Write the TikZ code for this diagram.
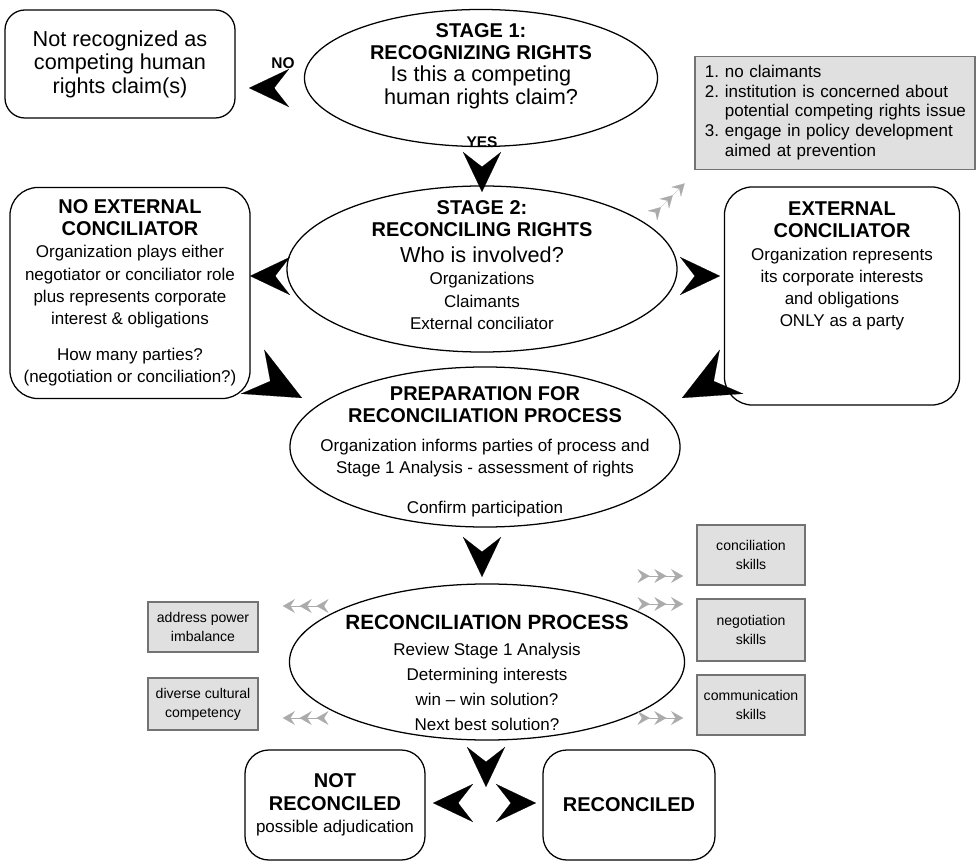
\documentclass[tikz,border=0pt]{standalone}
\usepackage{fontspec}
\setmainfont{Liberation Sans}
\usetikzlibrary{shapes.geometric,arrows.meta}

\newcommand{\hdfont}{\fontsize{14.2}{15.8}\selectfont\bfseries}
\newcommand{\txfont}{\fontsize{12.1}{15.8}\selectfont\mdseries}
\newcommand{\qfont}{\fontsize{15.4}{16.7}\selectfont\mdseries}
\newcommand{\smfont}{\fontsize{10}{13.5}\selectfont}
\newcommand{\lsfont}{\fontsize{12.1}{14.2}\selectfont}

\tikzset{
  oval/.style={ellipse, draw, line width=0.9pt, inner sep=0pt, align=center},
  rbox/.style={draw, rounded corners=0.7cm, line width=0.9pt, inner sep=0pt, align=center},
  gbox/.style={draw=black!55, fill=black!12, line width=0.8pt, inner sep=0pt, align=center, font=\smfont},
  chev/.style={line width=0.1pt, -{Stealth[length=1cm,width=0.95cm,inset=0.37cm]}},
  bigchev/.style={line width=0.1pt, -{Stealth[length=1.4cm,width=1.25cm,inset=0.5cm]}},
  chv/.tip={Stealth[length=3mm,width=3.4mm,inset=1.1mm,sep=1.2mm]},
  triple/.style={draw=black!33, line width=0.1pt, -{chv[]chv[]chv[]}},
}

\begin{document}
\begin{tikzpicture}[x=0.025cm,y=-0.025cm]
\useasboundingbox (0,0) rectangle (980,865);
% Stage 1
\node[rbox, rounded corners=0.5cm, minimum width=5.75cm, minimum height=2.7cm, font=\qfont] (notrec) at (120,64)
  {Not recognized as\\competing human\\rights claim(s)};
\node[oval, minimum width=8.825cm, minimum height=3.425cm] (stage1) at (481,78) {};
\node[align=center, font=\hdfont] (stage1t) at (481,66)
  {STAGE 1:\\RECOGNIZING RIGHTS\\\qfont Is this a competing\\\qfont human rights claim?};
\node[font=\fontsize{11}{13}\selectfont\bfseries] (no) at (283,63) {NO};
\node[font=\fontsize{11}{13}\selectfont\bfseries] (yes) at (482,142) {YES};
\node[gbox, text width=6.5cm, inner xsep=0.25cm, align=left, minimum height=2.825cm, font=\lsfont] (note) at (835,113)
  {\begin{tabular}{@{}r@{~}l@{}}1.&no claimants\\2.&institution is concerned about\\&potential competing rights issue\\3.&engage in policy development\\&aimed at prevention\end{tabular}};
% Stage 2
\node[oval, minimum width=9.75cm, minimum height=4.15cm] (stage2) at (482,269) {};
\node[align=center, font=\hdfont] (stage2t) at (482,265)
  {STAGE 2:\\RECONCILING RIGHTS\\[0.1cm]\qfont Who is involved?\\\txfont Organizations\\\txfont Claimants\\\txfont External conciliator};
\node[rbox, minimum width=6cm, minimum height=5.275cm, font=\hdfont] (noext) at (130,293)
  {NO EXTERNAL\\CONCILIATOR\\\txfont Organization plays either\\\txfont negotiator or conciliator role\\\txfont plus represents corporate\\\txfont interest \& obligations\\[0.35cm]\txfont How many parties?\\\txfont (negotiation or conciliation?)};
\node[rbox, minimum width=5.875cm, minimum height=5.45cm] (ext) at (842,296) {};
\node[align=center, font=\hdfont, anchor=north] (extt) at (842,197)
  {EXTERNAL\\CONCILIATOR\\\txfont Organization represents\\\txfont its corporate interests\\\txfont and obligations\\\txfont ONLY as a party};
% Preparation
\node[oval, minimum width=9.75cm, minimum height=4cm] (prep) at (485,447) {};
\node[align=center, font=\hdfont] (prept) at (485,452)
  {PREPARATION FOR\\RECONCILIATION PROCESS\\[0.15cm]\txfont Organization informs parties of process and\\\txfont Stage 1 Analysis - assessment of rights\\[0.45cm]\txfont Confirm participation};
% Reconciliation
\node[oval, minimum width=9.875cm, minimum height=3.9cm] (recon) at (487,662) {};
\node[align=center, font=\fontsize{14.7}{17}\selectfont\bfseries] (recont) at (487,673)
  {RECONCILIATION PROCESS\\[0.05cm]\txfont Review Stage 1 Analysis\\[0.03cm]\txfont Determining interests\\[0.03cm]\txfont win -- win solution?\\[0.03cm]\txfont Next best solution?};
\node[gbox, minimum width=2.75cm, minimum height=1.25cm] (power) at (203,627) {address power\\imbalance};
\node[gbox, minimum width=2.75cm, minimum height=1.3cm] (culture) at (203,704) {diverse cultural\\competency};
\node[gbox, minimum width=2.7cm, minimum height=1.5cm] (concil) at (751,555) {conciliation\\skills};
\node[gbox, minimum width=2.7cm, minimum height=1.55cm] (negot) at (751,630) {negotiation\\skills};
\node[gbox, minimum width=2.7cm, minimum height=1.5cm] (commun) at (751,705) {communication\\skills};
% Outcomes
\node[rbox, rounded corners=0.6cm, minimum width=4.5cm, minimum height=2.75cm, font=\hdfont] (notreco) at (335,805)
  {NOT\\RECONCILED\\\txfont possible adjudication};
\node[rbox, rounded corners=0.6cm, minimum width=4.3cm, minimum height=2.75cm, font=\hdfont] (reco) at (629,805) {RECONCILED};

% black arrows
\coordinate (noT) at (249,88);
\coordinate (yesT) at (482,192);
\coordinate (s2lT) at (250,276);
\coordinate (s2rT) at (720,276);
\coordinate (plT) at (302,398);
\coordinate (prT) at (682,398);
\coordinate (pdT) at (482,577);
\coordinate (rdT) at (486,787);
\coordinate (rlT) at (433,803);
\coordinate (rrT) at (536,803);
\draw[chev] (noT) ++(25,0) -- (noT);
\draw[chev] (yesT) ++(0,-25) -- (yesT);
\draw[chev] (s2lT) ++(25,0) -- (s2lT);
\draw[chev] (s2rT) ++(-25,0) -- (s2rT);
\draw[bigchev] (plT) ++(208:35) -- (plT);
\draw[bigchev] (prT) ++(-28:35) -- (prT);
\draw[chev] (pdT) ++(0,-25) -- (pdT);
\draw[chev] (rdT) ++(0,-25) -- (rdT);
\draw[chev] (rlT) ++(25,0) -- (rlT);
\draw[chev] (rrT) ++(-25,0) -- (rrT);
% grey chevrons
\draw[triple] (688,180) ++(135:40) -- (688,180);
\draw[triple] (318,606) -- ++(-40,0);
\draw[triple] (318,718) -- ++(-40,0);
\draw[triple] (648,576) -- ++(40,0);
\draw[triple] (648,604) -- ++(40,0);
\draw[triple] (648,718) -- ++(40,0);
\end{tikzpicture}
\end{document}
